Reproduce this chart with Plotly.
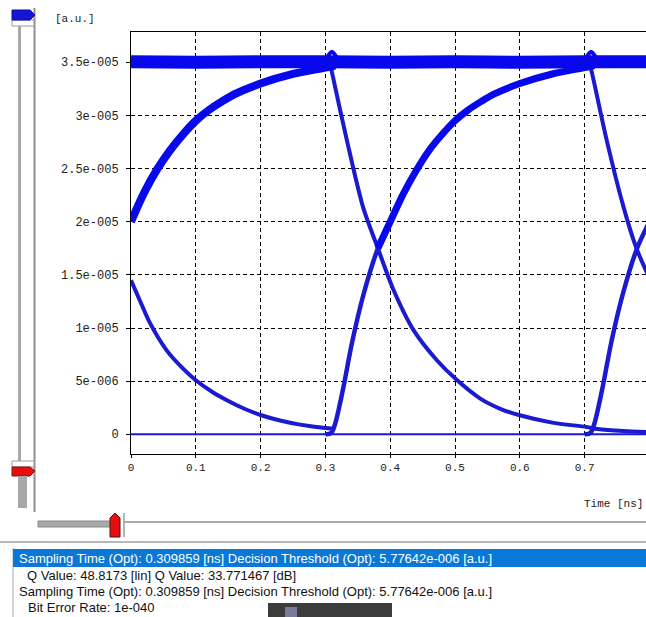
import plotly.graph_objects as go

# ---------------- data (time in ns, amplitude in a.u.) ----------------
x_ticks = [0, 0.1, 0.2, 0.3, 0.4, 0.5, 0.6, 0.7]
x_tick_labels = ["0", "0.1", "0.2", "0.3", "0.4", "0.5", "0.6", "0.7"]
y_ticks = [0, 5e-6, 1e-5, 1.5e-5, 2e-5, 2.5e-5, 3e-5, 3.5e-5]
y_tick_labels = ["0", "5e-006", "1e-005", "1.5e-005", "2e-005", "2.5e-005", "3e-005", "3.5e-005"]

# "1" level band
level1_t = [0.0, 0.1, 0.2, 0.3, 0.4, 0.5, 0.6, 0.7, 0.8]
level1_v = [3.505e-5, 3.50e-5, 3.505e-5, 3.505e-5, 3.50e-5, 3.505e-5, 3.50e-5, 3.505e-5, 3.505e-5]
# overshoot spikes on the "1" level
spike1_t = [0.303, 0.310, 0.317]
spike1_v = [3.55e-5, 3.60e-5, 3.55e-5]
spike2_t = [0.703, 0.710, 0.717]
spike2_v = [3.55e-5, 3.60e-5, 3.55e-5]

# "0" level
level0_t = [0.0, 0.8]
level0_v = [0.0, 0.0]

# tail of the previous rising edge
riseA_t = [0.0, 0.02, 0.04, 0.06, 0.08, 0.10, 0.12, 0.14, 0.16, 0.20, 0.25, 0.30, 0.315]
riseA_v = [2.0e-5, 2.27e-5, 2.49e-5, 2.67e-5, 2.82e-5, 2.95e-5, 3.05e-5, 3.13e-5, 3.20e-5,
           3.30e-5, 3.39e-5, 3.45e-5, 3.47e-5]

# rising edge starting near 0.31 ns (lower, thin part and upper, thick part)
riseB_low_t = [0.300, 0.306, 0.310, 0.313, 0.316, 0.320, 0.325, 0.330, 0.341, 0.359, 0.381, 0.395]
riseB_low_v = [0.0, 0.005e-5, 0.02e-5, 0.06e-5, 0.12e-5, 0.22e-5, 0.36e-5, 0.51e-5, 0.86e-5, 1.32e-5, 1.75e-5, 1.95e-5]
riseB_high_t = [0.381, 0.40, 0.42, 0.44, 0.46, 0.48, 0.50, 0.52, 0.54, 0.56, 0.60, 0.65, 0.70, 0.715]
riseB_high_v = [1.75e-5, 2.0e-5, 2.26e-5, 2.48e-5, 2.67e-5, 2.82e-5, 2.95e-5, 3.05e-5, 3.13e-5,
                3.20e-5, 3.30e-5, 3.39e-5, 3.45e-5, 3.47e-5]

# tail of the previous falling edge
fallC_t = [0.0, 0.015, 0.029, 0.055, 0.08, 0.10, 0.125, 0.148, 0.175, 0.201, 0.23, 0.261, 0.30, 0.31]
fallC_v = [1.45e-5, 1.24e-5, 1.05e-5, 0.79e-5, 0.62e-5, 0.508e-5, 0.40e-5, 0.32e-5, 0.24e-5, 0.179e-5,
           0.13e-5, 0.091e-5, 0.059e-5, 0.055e-5]

# falling edge starting near 0.31 ns
fallD_t = [0.307, 0.310, 0.333, 0.358, 0.381, 0.405, 0.436, 0.472, 0.503, 0.539, 0.570, 0.600, 0.650,
           0.703, 0.720, 0.760, 0.800]
fallD_v = [3.50e-5, 3.41e-5, 2.77e-5, 2.14e-5, 1.75e-5, 1.36e-5, 0.98e-5, 0.697e-5, 0.51e-5, 0.336e-5,
           0.24e-5, 0.179e-5, 0.11e-5, 0.069e-5, 0.05e-5, 0.03e-5, 0.02e-5]

# falling / rising edges near 0.71 ns
fallE_t = [0.707, 0.711, 0.734, 0.760, 0.780, 0.800]
fallE_v = [3.50e-5, 3.41e-5, 2.77e-5, 2.14e-5, 1.75e-5, 1.47e-5]
riseF_t = [0.700, 0.706, 0.710, 0.713, 0.716, 0.720, 0.725, 0.730, 0.741, 0.759, 0.781, 0.800]
riseF_v = [0.0, 0.005e-5, 0.02e-5, 0.06e-5, 0.12e-5, 0.22e-5, 0.36e-5, 0.51e-5, 0.86e-5, 1.32e-5, 1.75e-5, 2.0e-5]

# result panel text
panel_lines = [
    "Sampling Time (Opt): 0.309859 [ns] Decision Threshold (Opt): 5.77642e-006 [a.u.]",
    "Q Value: 48.8173 [lin] Q Value: 33.771467 [dB]",
    "Sampling Time (Opt): 0.309859 [ns] Decision Threshold (Opt): 5.77642e-006 [a.u.]",
    "Bit Error Rate: 1e-040",
]
y_unit = "[a.u.]"
x_title = "Time [ns]"

# ---------------- figure ----------------
W, H = 646, 617
L, T, B = 131, 32, 454          # plot-area pixel edges
PW, PH = W - L, B - T


def X(px):
    return (px - L) / PW


def Y(py):
    return (B - py) / PH


BAND = "#0808ec"
THIN = "#1a1ad0"

fig = go.Figure()


def add(t, v, color, width):
    fig.add_trace(go.Scatter(x=t, y=v, mode="lines",
                             line=dict(color=color, width=width, shape="spline", smoothing=0.8),
                             hoverinfo="skip", showlegend=False))


add(level0_t, level0_v, THIN, 2)
add(fallC_t, fallC_v, THIN, 4)
add(fallD_t, fallD_v, THIN, 4)
add(fallE_t, fallE_v, THIN, 4)
add(riseB_low_t, riseB_low_v, THIN, 4.5)
add(riseF_t, riseF_v, THIN, 4.5)
add(riseA_t, riseA_v, BAND, 8)
add(riseB_high_t, riseB_high_v, BAND, 7)
add(level1_t, level1_v, BAND, 13)
add(spike1_t, spike1_v, BAND, 4)
add(spike2_t, spike2_v, BAND, 4)

monox = dict(family="Liberation Mono, Courier New, monospace", size=11, color="#222222")
monoy = dict(family="Liberation Mono, Courier New, monospace", size=12, color="#222222")

fig.update_layout(
    width=W, height=H,
    margin=dict(l=L, r=0, t=T, b=H - B, pad=0),
    paper_bgcolor="white", plot_bgcolor="white",
    showlegend=False,
    xaxis=dict(
        range=[0, PW / 648.0], tickvals=x_ticks, ticktext=x_tick_labels,
        showgrid=True, gridcolor="black", gridwidth=1, griddash="4px,3px",
        showline=True, linecolor="black", linewidth=1, mirror=True,
        ticks="outside", ticklen=3, tickcolor="black",
        tickfont=monox, zeroline=False, fixedrange=True,
    ),
    yaxis=dict(
        range=[-1.854e-6, 3.785e-5], tickvals=y_ticks, ticktext=y_tick_labels,
        showgrid=True, gridcolor="black", gridwidth=1, griddash="4px,3px",
        showline=True, linecolor="black", linewidth=1, mirror=False,
        ticks="outside", ticklen=4, tickcolor="black", ticklabelstandoff=5,
        tickfont=monoy, zeroline=False, fixedrange=True,
    ),
)

shapes = []


def rect(x0, y0, x1, y1, fill, line=None, lw=0):
    shapes.append(dict(type="rect", xref="paper", yref="paper",
                       x0=X(x0), x1=X(x1), y0=Y(y0), y1=Y(y1),
                       fillcolor=fill, line=dict(color=line or fill, width=lw), layer="above"))


def hline(x0, x1, y, color, w=1):
    shapes.append(dict(type="line", xref="paper", yref="paper",
                       x0=X(x0), x1=X(x1), y0=Y(y), y1=Y(y),
                       line=dict(color=color, width=w), layer="above"))


def vline(x, y0, y1, color, w=1):
    shapes.append(dict(type="line", xref="paper", yref="paper",
                       x0=X(x), x1=X(x), y0=Y(y0), y1=Y(y1),
                       line=dict(color=color, width=w), layer="above"))


def poly(pts, fill, line):
    d = "M " + " L ".join(f"{X(px)},{Y(py)}" for px, py in pts) + " Z"
    shapes.append(dict(type="path", xref="paper", yref="paper", path=d,
                       fillcolor=fill, line=dict(color=line, width=1), layer="above"))


# vertical slider on the left
rect(18, 24, 21, 462, "#a8a8a8")
vline(34.5, 8, 512, "#8f8f8f", 2)
rect(12, 20, 34, 26, "white", "#9a9a9a", 1)
poly([(12, 10), (30, 10), (35, 15), (30, 20), (12, 20)], "#1515d5", "#0c0c9c")
rect(12, 461, 34, 467, "white", "#9a9a9a", 1)
poly([(12, 467), (30, 467), (35, 471), (30, 476), (12, 476)], "#e41010", "#8c0a0a")
rect(18, 476, 27, 508, "#a8a8a8")

# horizontal slider below the plot
hline(124, 646, 522, "#8c8c8c", 1.5)
hline(0, 646, 542, "#a0a0a0", 1.5)
rect(38, 521, 112, 527, "#a8a8a8", "#8a8a8a", 1)
poly([(110, 537), (110, 518), (115, 513), (120, 518), (120, 537)], "#e41010", "#5a0a0a")
vline(124, 513, 537, "#9a9a9a", 1.5)

# result panel
vline(13, 548, 617, "#a8a8a8", 1)
rect(13, 549, 646, 567, "#0a78d7")
rect(268, 603, 392, 617, "#3c3c3c")
rect(285, 607, 297, 617, "#7a7a9a")

fig.update_layout(shapes=shapes)

ann = []
ann.append(dict(text=y_unit, x=X(53), y=Y(19), xref="paper", yref="paper",
                xanchor="left", yanchor="middle", showarrow=False, font=monox))
ann.append(dict(text=x_title, x=X(645), y=Y(504), xref="paper", yref="paper",
                xanchor="right", yanchor="middle", showarrow=False,
                font=dict(family="Liberation Mono, monospace", size=11, color="#222222")))

panel_font = "Liberation Sans, Arial, sans-serif"
line_y = [558, 575, 591, 607]
line_x = [17, 25, 17, 26]
for i, (txt, py, px) in enumerate(zip(panel_lines, line_y, line_x)):
    ann.append(dict(text=txt, x=X(px), y=Y(py), xref="paper", yref="paper",
                    xanchor="left", yanchor="middle", showarrow=False,
                    font=dict(family=panel_font, size=13, color="white" if i == 0 else "#111111")))
fig.update_layout(annotations=ann)

fig.write_html(
    "out.html",
    config={"displayModeBar": False, "staticPlot": True},
    post_script="document.body.style.margin='0';document.body.style.overflow='hidden';",
)
